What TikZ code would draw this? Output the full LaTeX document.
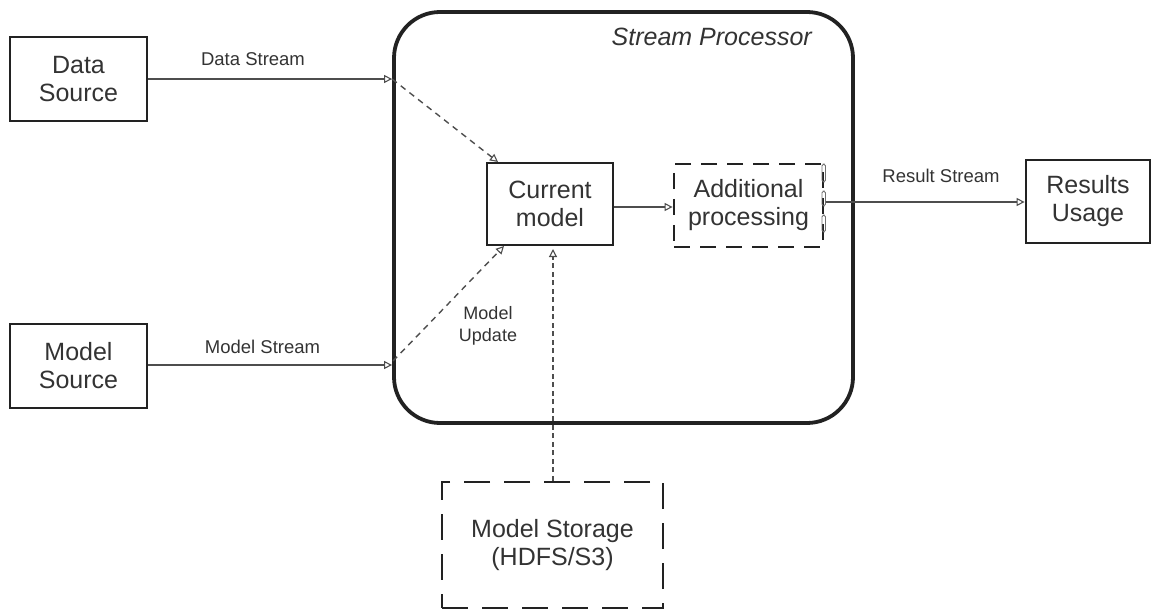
\documentclass[tikz,border=0pt]{standalone}
\usepackage{fontspec}
\setmainfont{Liberation Sans}
\usetikzlibrary{arrows.meta}
\definecolor{ink}{HTML}{222222}
\definecolor{txt}{HTML}{333333}
\begin{document}
\begin{tikzpicture}[x=1pt,y=-1pt,
  box/.style={draw=ink,line width=2.8pt,minimum width=137pt,minimum height=84pt,align=center,text=txt,font=\fontsize{25}{28}\selectfont,inner sep=0pt},
  lbl/.style={text=txt,font=\fontsize{18.5}{22}\selectfont,inner sep=0pt},
  flow/.style={draw=ink!80,line width=1.4pt,-{Triangle[open,length=8pt,width=8pt,line width=1.1pt]}},
  dflow/.style={flow,dash pattern=on 6pt off 5pt},
  port/.style={draw=ink!65,line width=0.9pt,rounded corners=1.8pt}]
\useasboundingbox (0,0) rectangle (1158,612);
% Stream processor container
\node[draw=ink,line width=3.8pt,rounded corners=46pt,minimum width=459pt,minimum height=411pt,inner sep=0pt] (sp) at (623.5,217.5) {};
\node[lbl,font=\fontsize{25}{28}\selectfont\itshape,anchor=base east] (spl) at (812,46) {Stream Processor};
% boxes
\node[box] (ds) at (78.5,79) {Data\\Source};
\node[box] (ms) at (78.5,366) {Model\\Source};
\node[box,line width=2.4pt,minimum width=126pt,minimum height=82pt] (cm) at (550,204) {Current\\model};
\node[box,line width=2.8pt,dash pattern=on 16pt off 10pt,minimum width=149pt,minimum height=83pt] (ap) at (748.5,205.5) {Additional\\processing};
\node[box,minimum width=124pt,minimum height=83pt] (ru) at (1088,201.5) {Results\\Usage};
\node[box,line width=2.8pt,dash pattern=on 26pt off 14pt,minimum width=221pt,minimum height=126pt] (st) at (552.5,545) {Model Storage\\(HDFS/S3)};
% ports
\draw[port] (822,164) rectangle (825.5,182);
\draw[port] (822,191) rectangle (825.5,206);
\draw[port] (822,215) rectangle (825.5,232);
% coordinates
\coordinate (din) at (sp.west |- 0,79);
\coordinate (min) at (sp.west |- 0,365);
\coordinate (mup) at (393,361);
\coordinate (apout) at (825.5,202);
% connectors
\draw[flow] (ds.east |- din) -- (din);
\node[lbl,anchor=base] (dsl) at (253,66) {Data Stream};
\draw[flow] (ms.east |- min) -- (min);
\node[lbl,anchor=base] (msl) at (262.5,353) {Model Stream};
\draw[dflow] (din) -- (498,162);
\draw[dflow] (mup) -- (504,246);
\node[lbl,align=center,font=\fontsize{18}{22}\selectfont] (mul) at (488,326) {Model\\Update};
\draw[flow] (cm.east |- 0,207) -- (ap.west |- 0,207);
\draw[flow] (apout) -- (ru.west |- apout);
\node[lbl,anchor=base] (rsl) at (941,183) {Result Stream};
\draw[flow,dash pattern=on 5pt off 3.5pt] (st.north -| 553,0) -- (553,249);
\end{tikzpicture}
\end{document}
